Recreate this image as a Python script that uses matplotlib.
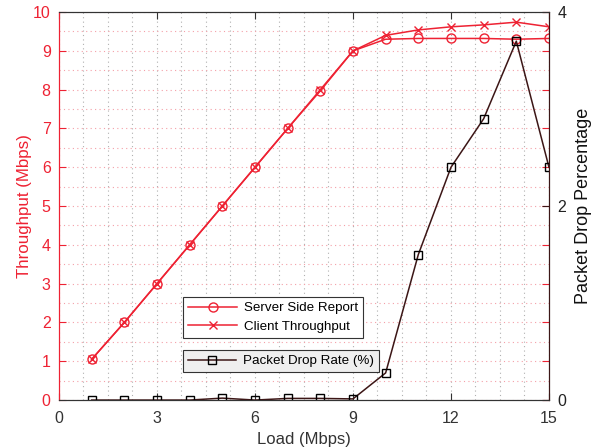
import matplotlib
matplotlib.use("Agg")
import matplotlib.pyplot as plt
from matplotlib.ticker import MultipleLocator

plt.rcParams['font.family'] = ['Liberation Sans', 'DejaVu Sans']

load = [1, 2, 3, 4, 5, 6, 7, 8, 9, 10, 11, 12, 13, 14, 15]
server = [1.05, 2.0, 3.0, 4.0, 5.0, 6.0, 7.0, 7.97, 9.0, 9.3, 9.32, 9.32, 9.32, 9.3, 9.32]
client = [1.05, 2.0, 3.0, 4.0, 5.0, 6.0, 7.0, 8.0, 9.0, 9.4, 9.54, 9.62, 9.67, 9.74, 9.62]
drop = [0.0, 0.0, 0.0, 0.0, 0.02, 0.0, 0.017, 0.017, 0.012, 0.28, 1.5, 2.4, 2.9, 3.7, 2.4]

RED = '#ee2233'
DARK = '#3c1616'
GRAY = '#333333'

fig = plt.figure(figsize=(5.94, 4.47), dpi=100)
ax = fig.add_axes([0.0993, 0.105, 0.8249, 0.868])
ax2 = ax.twinx()

l1, = ax.plot(load, server, color=RED, marker='o', mfc='none', ms=6.5, lw=1.1, label='Server Side Report')
l2, = ax.plot(load, client, color=RED, marker='x', ms=6, lw=1.1, label='Client Throughput')
l3, = ax2.plot(load, drop, color=DARK, marker='s', mfc='none', mec='black', ms=5.5, lw=1.1,
               label='Packet Drop Rate (%)')

ax.set_xlim(0, 15)
ax.set_ylim(0, 10)
ax2.set_ylim(0, 4)
ax.xaxis.set_major_locator(MultipleLocator(3))
ax.xaxis.set_minor_locator(MultipleLocator(0.75))
ax.yaxis.set_major_locator(MultipleLocator(1))
ax.yaxis.set_minor_locator(MultipleLocator(0.5))
ax2.yaxis.set_major_locator(MultipleLocator(2))

ax.grid(which='both', axis='x', color='#b0b0b0', ls=(0, (1, 3)), lw=0.8)
ax.grid(which='both', axis='y', color='#f4a0a8', ls=(0, (1, 3)), lw=0.8)
ax.set_axisbelow(True)

ax.tick_params(axis='x', which='major', direction='in', top=True, colors=GRAY, labelsize=11.5, length=5, pad=8)
ax.tick_params(axis='x', which='minor', length=0)
ax.tick_params(axis='y', which='major', direction='in', right=True, colors=RED, labelsize=11.5, length=5, pad=6)
ax.tick_params(axis='y', which='minor', length=0)
ax2.tick_params(axis='y', which='major', direction='in', colors=DARK, labelsize=11.5, length=5, pad=6)
ax2.tick_params(axis='y', which='minor', length=0)
for lab in ax2.get_yticklabels():
    lab.set_color('#222222')

ax.spines['left'].set_color(RED)
ax.spines['top'].set_color(GRAY)
ax.spines['bottom'].set_color(GRAY)
ax2.spines['right'].set_color(DARK)
ax2.spines['left'].set_color(RED)
ax2.spines['top'].set_color(GRAY)
ax2.spines['bottom'].set_color(GRAY)

ax.set_xlabel('Load (Mbps)', fontsize=12, color='#333333', labelpad=4)
ax.set_ylabel('Throughput (Mbps)', fontsize=12.2, color=RED, labelpad=0.5)
ax2.set_ylabel('Packet Drop Percentage', fontsize=13, color='#111111', labelpad=6)

leg1 = ax2.legend(handles=[l1, l2], loc='lower left', bbox_to_anchor=(0.253, 0.160), borderaxespad=0,
                  fancybox=False, edgecolor='#333333', framealpha=1, facecolor='white',
                  fontsize=9.6, handlelength=3.65, handletextpad=0.5, borderpad=0.4, labelspacing=0.45)
leg1.get_frame().set_linewidth(0.8)
ax2.add_artist(leg1)
leg2 = ax2.legend(handles=[l3], loc='lower left', bbox_to_anchor=(0.253, 0.072), borderaxespad=0,
                  fancybox=False, edgecolor='#333333', framealpha=1, facecolor='#efefef',
                  fontsize=9.6, handlelength=3.65, handletextpad=0.5, borderpad=0.35)
leg2.get_frame().set_linewidth(0.8)

fig.savefig('out.png', dpi=100)
